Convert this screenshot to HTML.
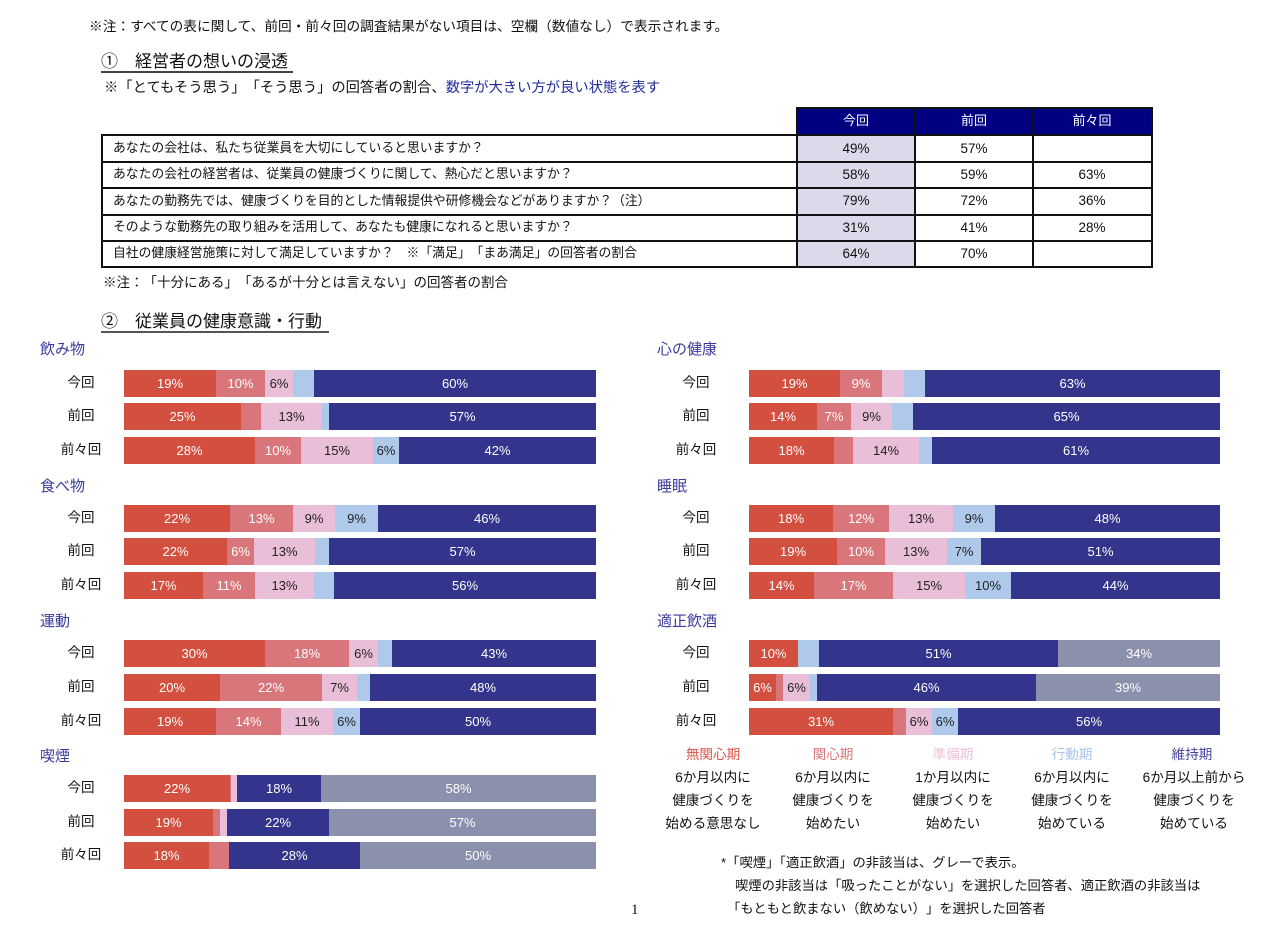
<!DOCTYPE html>
<html><head><meta charset="utf-8">
<style>
*{margin:0;padding:0;box-sizing:border-box}
body{width:1271px;height:925px;background:#fff;position:relative;overflow:hidden;font-family:"Liberation Sans","Noto Sans CJK JP",sans-serif;color:#111;text-spacing-trim:space-all}
.t{position:absolute;white-space:nowrap;line-height:20px;font-size:13.5px}
.c{text-align:center}
.ln{position:absolute;background:#111}
.s{position:absolute;height:27px;line-height:27px;text-align:center;font-size:13px;color:#fff;overflow:hidden;white-space:nowrap;font-family:"Liberation Sans",sans-serif}
.R{background:#d35040}.P{background:#d8767b}.L{background:#e9bed8;color:#222}.B{background:#afc9eb;color:#222}.N{background:#33348b}.G{background:#8b90ac}
.cat{position:absolute;white-space:nowrap;font-size:15px;line-height:20px;color:#3b3b9b}
.rl{position:absolute;width:60px;text-align:center;font-size:13.5px;line-height:20px;color:#111}
.q{position:absolute;left:113px;white-space:nowrap;font-size:12.8px;line-height:20px}
.v{position:absolute;width:118px;text-align:center;font-size:13.5px;line-height:20px}
.lg{position:absolute;width:140px;text-align:center;font-size:13.6px;line-height:20px;white-space:nowrap}
</style></head><body>

<div class="t" style="left:89px;top:17px;font-size:13.7px">※注：すべての表に関して、前回・前々回の調査結果がない項目は、空欄（数値なし）で表示されます。</div>

<div class="t" style="left:101px;top:50px;font-size:17px;line-height:24px">①　経営者の想いの浸透</div>
<div style="position:absolute;left:101px;top:71px;width:192px;height:1.5px;background:#444"></div>
<div class="t" style="left:104px;top:78px;font-size:14.3px">※「とてもそう思う」「そう思う」の回答者の割合、<span style="color:#1f2a9c">数字が大きい方が良い状態を表す</span></div>

<!-- table -->
<div style="position:absolute;left:798px;top:109px;width:354px;height:25px;background:#000080"></div>
<div style="position:absolute;left:798px;top:136px;width:117px;height:131px;background:#dadaeb"></div>
<div class="ln" style="left:796px;top:107px;width:357px;height:2px"></div>
<div class="ln" style="left:101px;top:134px;width:1052px;height:2px"></div>
<div class="ln" style="left:101px;top:161px;width:1052px;height:2px"></div>
<div class="ln" style="left:101px;top:187px;width:1052px;height:2px"></div>
<div class="ln" style="left:101px;top:214px;width:1052px;height:2px"></div>
<div class="ln" style="left:101px;top:240px;width:1052px;height:2px"></div>
<div class="ln" style="left:101px;top:266px;width:1052px;height:2px"></div>
<div class="ln" style="left:101px;top:134px;width:2px;height:134px"></div>
<div class="ln" style="left:796px;top:107px;width:2px;height:161px"></div>
<div class="ln" style="left:914px;top:107px;width:2px;height:161px"></div>
<div class="ln" style="left:1032px;top:107px;width:2px;height:161px"></div>
<div class="ln" style="left:1151px;top:107px;width:2px;height:161px"></div>

<div class="v" style="left:797px;top:111px;color:#fff;font-size:13px">今回</div>
<div class="v" style="left:915px;top:111px;color:#fff;font-size:13px">前回</div>
<div class="v" style="left:1033px;top:111px;color:#fff;font-size:13px">前々回</div>

<div class="q" style="top:138px">あなたの会社は、私たち従業員を大切にしていると思いますか？</div>
<div class="q" style="top:164px">あなたの会社の経営者は、従業員の健康づくりに関して、熱心だと思いますか？</div>
<div class="q" style="top:191px">あなたの勤務先では、健康づくりを目的とした情報提供や研修機会などがありますか？（注）</div>
<div class="q" style="top:217px">そのような勤務先の取り組みを活用して、あなたも健康になれると思いますか？</div>
<div class="q" style="top:243px">自社の健康経営施策に対して満足していますか？　※「満足」「まあ満足」の回答者の割合</div>

<div class="v" style="left:797px;top:139px">49%</div><div class="v" style="left:915px;top:139px">57%</div>
<div class="v" style="left:797px;top:165px">58%</div><div class="v" style="left:915px;top:165px">59%</div><div class="v" style="left:1033px;top:165px">63%</div>
<div class="v" style="left:797px;top:191px">79%</div><div class="v" style="left:915px;top:191px">72%</div><div class="v" style="left:1033px;top:191px">36%</div>
<div class="v" style="left:797px;top:218px">31%</div><div class="v" style="left:915px;top:218px">41%</div><div class="v" style="left:1033px;top:218px">28%</div>
<div class="v" style="left:797px;top:244px">64%</div><div class="v" style="left:915px;top:244px">70%</div>

<div class="t" style="left:103px;top:273px">※注：「十分にある」「あるが十分とは言えない」の回答者の割合</div>

<div class="t" style="left:101px;top:310px;font-size:17px;line-height:24px">②　従業員の健康意識・行動</div>
<div style="position:absolute;left:101px;top:331px;width:228px;height:1.5px;background:#555"></div>

<!-- category titles -->
<div class="cat" style="left:40px;top:340px">飲み物</div>
<div class="cat" style="left:40px;top:477px">食べ物</div>
<div class="cat" style="left:40px;top:612px">運動</div>
<div class="cat" style="left:40px;top:747px">喫煙</div>
<div class="cat" style="left:657px;top:340px">心の健康</div>
<div class="cat" style="left:657px;top:477px">睡眠</div>
<div class="cat" style="left:657px;top:612px">適正飲酒</div>

<!-- row labels left -->
<div class="rl" style="left:51px;top:373px">今回</div>
<div class="rl" style="left:51px;top:406px">前回</div>
<div class="rl" style="left:51px;top:440px">前々回</div>
<div class="rl" style="left:51px;top:508px">今回</div>
<div class="rl" style="left:51px;top:541px">前回</div>
<div class="rl" style="left:51px;top:575px">前々回</div>
<div class="rl" style="left:51px;top:643px">今回</div>
<div class="rl" style="left:51px;top:677px">前回</div>
<div class="rl" style="left:51px;top:711px">前々回</div>
<div class="rl" style="left:51px;top:778px">今回</div>
<div class="rl" style="left:51px;top:812px">前回</div>
<div class="rl" style="left:51px;top:845px">前々回</div>
<!-- row labels right -->
<div class="rl" style="left:666px;top:373px">今回</div>
<div class="rl" style="left:666px;top:406px">前回</div>
<div class="rl" style="left:666px;top:440px">前々回</div>
<div class="rl" style="left:666px;top:508px">今回</div>
<div class="rl" style="left:666px;top:541px">前回</div>
<div class="rl" style="left:666px;top:575px">前々回</div>
<div class="rl" style="left:666px;top:643px">今回</div>
<div class="rl" style="left:666px;top:677px">前回</div>
<div class="rl" style="left:666px;top:711px">前々回</div>

<!-- 飲み物 -->
<div class="s R" style="left:124px;top:370px;width:92px">19%</div>
<div class="s P" style="left:216px;top:370px;width:49px">10%</div>
<div class="s L" style="left:265px;top:370px;width:28px">6%</div>
<div class="s B" style="left:293px;top:370px;width:21px"></div>
<div class="s N" style="left:314px;top:370px;width:282px">60%</div>

<div class="s R" style="left:124px;top:403px;width:117px">25%</div>
<div class="s P" style="left:241px;top:403px;width:20px"></div>
<div class="s L" style="left:261px;top:403px;width:61px">13%</div>
<div class="s B" style="left:322px;top:403px;width:7px"></div>
<div class="s N" style="left:329px;top:403px;width:267px">57%</div>

<div class="s R" style="left:124px;top:437px;width:131px">28%</div>
<div class="s P" style="left:255px;top:437px;width:46px">10%</div>
<div class="s L" style="left:301px;top:437px;width:72px">15%</div>
<div class="s B" style="left:373px;top:437px;width:26px">6%</div>
<div class="s N" style="left:399px;top:437px;width:197px">42%</div>

<!-- 食べ物 -->
<div class="s R" style="left:124px;top:505px;width:106px">22%</div>
<div class="s P" style="left:230px;top:505px;width:63px">13%</div>
<div class="s L" style="left:293px;top:505px;width:42px">9%</div>
<div class="s B" style="left:335px;top:505px;width:43px">9%</div>
<div class="s N" style="left:378px;top:505px;width:218px">46%</div>

<div class="s R" style="left:124px;top:538px;width:103px">22%</div>
<div class="s P" style="left:227px;top:538px;width:27px">6%</div>
<div class="s L" style="left:254px;top:538px;width:61px">13%</div>
<div class="s B" style="left:315px;top:538px;width:14px"></div>
<div class="s N" style="left:329px;top:538px;width:267px">57%</div>

<div class="s R" style="left:124px;top:572px;width:79px">17%</div>
<div class="s P" style="left:203px;top:572px;width:52px">11%</div>
<div class="s L" style="left:255px;top:572px;width:59px">13%</div>
<div class="s B" style="left:314px;top:572px;width:20px"></div>
<div class="s N" style="left:334px;top:572px;width:262px">56%</div>

<!-- 運動 -->
<div class="s R" style="left:124px;top:640px;width:141px">30%</div>
<div class="s P" style="left:265px;top:640px;width:84px">18%</div>
<div class="s L" style="left:349px;top:640px;width:29px">6%</div>
<div class="s B" style="left:378px;top:640px;width:14px"></div>
<div class="s N" style="left:392px;top:640px;width:204px">43%</div>

<div class="s R" style="left:124px;top:674px;width:96px">20%</div>
<div class="s P" style="left:220px;top:674px;width:102px">22%</div>
<div class="s L" style="left:322px;top:674px;width:35px">7%</div>
<div class="s B" style="left:357px;top:674px;width:13px"></div>
<div class="s N" style="left:370px;top:674px;width:226px">48%</div>

<div class="s R" style="left:124px;top:708px;width:92px">19%</div>
<div class="s P" style="left:216px;top:708px;width:65px">14%</div>
<div class="s L" style="left:281px;top:708px;width:52px">11%</div>
<div class="s B" style="left:333px;top:708px;width:27px">6%</div>
<div class="s N" style="left:360px;top:708px;width:236px">50%</div>

<!-- 喫煙 -->
<div class="s R" style="left:124px;top:775px;width:106px">22%</div>
<div class="s P" style="left:230px;top:775px;width:1px"></div>
<div class="s L" style="left:231px;top:775px;width:6px"></div>
<div class="s N" style="left:237px;top:775px;width:84px">18%</div>
<div class="s G" style="left:321px;top:775px;width:275px">58%</div>

<div class="s R" style="left:124px;top:809px;width:89px">19%</div>
<div class="s P" style="left:213px;top:809px;width:7px"></div>
<div class="s L" style="left:220px;top:809px;width:7px"></div>
<div class="s N" style="left:227px;top:809px;width:102px">22%</div>
<div class="s G" style="left:329px;top:809px;width:267px">57%</div>

<div class="s R" style="left:124px;top:842px;width:85px">18%</div>
<div class="s P" style="left:209px;top:842px;width:20px"></div>
<div class="s N" style="left:229px;top:842px;width:131px">28%</div>
<div class="s G" style="left:360px;top:842px;width:236px">50%</div>

<!-- 心の健康 -->
<div class="s R" style="left:749px;top:370px;width:91px">19%</div>
<div class="s P" style="left:840px;top:370px;width:42px">9%</div>
<div class="s L" style="left:882px;top:370px;width:22px"></div>
<div class="s B" style="left:904px;top:370px;width:21px"></div>
<div class="s N" style="left:925px;top:370px;width:295px">63%</div>

<div class="s R" style="left:749px;top:403px;width:68px">14%</div>
<div class="s P" style="left:817px;top:403px;width:34px">7%</div>
<div class="s L" style="left:851px;top:403px;width:41px">9%</div>
<div class="s B" style="left:892px;top:403px;width:21px"></div>
<div class="s N" style="left:913px;top:403px;width:307px">65%</div>

<div class="s R" style="left:749px;top:437px;width:85px">18%</div>
<div class="s P" style="left:834px;top:437px;width:19px"></div>
<div class="s L" style="left:853px;top:437px;width:66px">14%</div>
<div class="s B" style="left:919px;top:437px;width:13px"></div>
<div class="s N" style="left:932px;top:437px;width:288px">61%</div>

<!-- 睡眠 -->
<div class="s R" style="left:749px;top:505px;width:84px">18%</div>
<div class="s P" style="left:833px;top:505px;width:56px">12%</div>
<div class="s L" style="left:889px;top:505px;width:64px">13%</div>
<div class="s B" style="left:953px;top:505px;width:42px">9%</div>
<div class="s N" style="left:995px;top:505px;width:225px">48%</div>

<div class="s R" style="left:749px;top:538px;width:88px">19%</div>
<div class="s P" style="left:837px;top:538px;width:48px">10%</div>
<div class="s L" style="left:885px;top:538px;width:62px">13%</div>
<div class="s B" style="left:947px;top:538px;width:34px">7%</div>
<div class="s N" style="left:981px;top:538px;width:239px">51%</div>

<div class="s R" style="left:749px;top:572px;width:65px">14%</div>
<div class="s P" style="left:814px;top:572px;width:79px">17%</div>
<div class="s L" style="left:893px;top:572px;width:72px">15%</div>
<div class="s B" style="left:965px;top:572px;width:46px">10%</div>
<div class="s N" style="left:1011px;top:572px;width:209px">44%</div>

<!-- 適正飲酒 -->
<div class="s R" style="left:749px;top:640px;width:49px">10%</div>
<div class="s B" style="left:798px;top:640px;width:21px"></div>
<div class="s N" style="left:819px;top:640px;width:239px">51%</div>
<div class="s G" style="left:1058px;top:640px;width:162px">34%</div>

<div class="s R" style="left:749px;top:674px;width:27px">6%</div>
<div class="s P" style="left:776px;top:674px;width:7px"></div>
<div class="s L" style="left:783px;top:674px;width:27px">6%</div>
<div class="s B" style="left:810px;top:674px;width:7px"></div>
<div class="s N" style="left:817px;top:674px;width:219px">46%</div>
<div class="s G" style="left:1036px;top:674px;width:184px">39%</div>

<div class="s R" style="left:749px;top:708px;width:144px">31%</div>
<div class="s P" style="left:893px;top:708px;width:13px"></div>
<div class="s L" style="left:906px;top:708px;width:26px">6%</div>
<div class="s B" style="left:932px;top:708px;width:26px">6%</div>
<div class="s N" style="left:958px;top:708px;width:262px">56%</div>

<!-- legend -->
<div class="lg" style="left:643px;top:745px;color:#dc5448">無関心期</div>
<div class="lg" style="left:643px;top:768px">6か月以内に</div>
<div class="lg" style="left:643px;top:791px">健康づくりを</div>
<div class="lg" style="left:643px;top:814px">始める意思なし</div>

<div class="lg" style="left:763px;top:745px;color:#d9787b">関心期</div>
<div class="lg" style="left:763px;top:768px">6か月以内に</div>
<div class="lg" style="left:763px;top:791px">健康づくりを</div>
<div class="lg" style="left:763px;top:814px">始めたい</div>

<div class="lg" style="left:883px;top:745px;color:#efc0d9">準備期</div>
<div class="lg" style="left:883px;top:768px">1か月以内に</div>
<div class="lg" style="left:883px;top:791px">健康づくりを</div>
<div class="lg" style="left:883px;top:814px">始めたい</div>

<div class="lg" style="left:1002px;top:745px;color:#a9c4ea">行動期</div>
<div class="lg" style="left:1002px;top:768px">6か月以内に</div>
<div class="lg" style="left:1002px;top:791px">健康づくりを</div>
<div class="lg" style="left:1002px;top:814px">始めている</div>

<div class="lg" style="left:1122px;top:745px;color:#4545a0">維持期</div>
<div class="lg" style="left:1124px;top:768px">6か月以上前から</div>
<div class="lg" style="left:1124px;top:791px">健康づくりを</div>
<div class="lg" style="left:1124px;top:814px">始めている</div>

<!-- footnotes -->
<div class="t" style="left:721px;top:853px;font-size:13.3px;text-spacing-trim:normal">*「喫煙」「適正飲酒」の非該当は、グレーで表示。</div>
<div class="t" style="left:735px;top:876px;font-size:13.3px">喫煙の非該当は「吸ったことがない」を選択した回答者、適正飲酒の非該当は</div>
<div class="t" style="left:727px;top:899px;font-size:13.3px">「もともと飲まない（飲めない）」を選択した回答者</div>

<div class="t" style="left:631px;top:900px;font-family:'Liberation Serif',serif;font-size:15px">1</div>

</body></html>
